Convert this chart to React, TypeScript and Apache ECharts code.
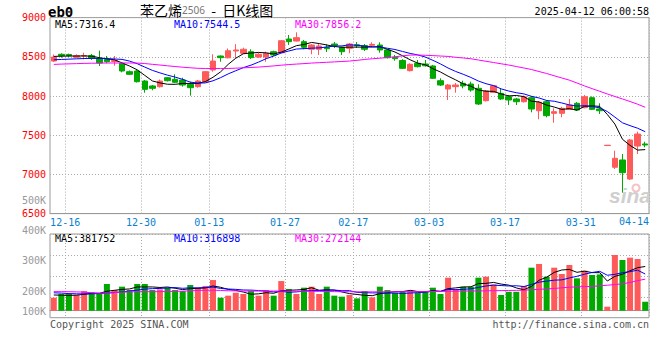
import React, { useEffect, useRef } from "react";
import * as echarts from "echarts";

const dates = ["12-12","12-13","12-16","12-17","12-18","12-19","12-20","12-23","12-24","12-25","12-26","12-27","12-30","12-31","01-02","01-03","01-06","01-07","01-08","01-09","01-10","01-13","01-14","01-15","01-16","01-17","01-20","01-21","01-22","01-23","01-24","01-27","02-05","02-06","02-07","02-10","02-11","02-12","02-13","02-14","02-17","02-18","02-19","02-20","02-21","02-24","02-25","02-26","02-27","02-28","03-03","03-04","03-05","03-06","03-07","03-10","03-11","03-12","03-13","03-14","03-17","03-18","03-19","03-20","03-21","03-24","03-25","03-26","03-27","03-28","03-31","04-01","04-02","04-03","04-07","04-08","04-09","04-10","04-11"];

const opens = [8446,8532,8530,8494,8510,8514,8478,8468,8440,8417,8310,8319,8191,8128,8119,8233,8213,8204,8149,8119,8182,8332,8510,8487,8574,8545,8565,8497,8497,8565,8552,8727,8701,8693,8596,8596,8621,8663,8621,8608,8654,8642,8647,8650,8587,8494,8453,8323,8417,8408,8383,8195,8089,8119,8162,8153,8098,7940,8047,8034,7991,7962,7927,7978,7812,7927,7779,7779,7830,7907,7851,7978,7834,7368,7091,7184,6941,7362,7388];
const closes = [8497,8514,8514,8514,8516,8481,8421,8438,8453,8319,8277,8182,8085,8098,8191,8195,8175,8140,8106,8191,8310,8446,8489,8577,8587,8596,8489,8532,8545,8523,8705,8693,8744,8621,8650,8638,8603,8647,8565,8663,8642,8596,8659,8587,8489,8476,8353,8404,8374,8385,8226,8140,8140,8140,8128,8076,7898,8064,8131,7962,7949,7927,7991,7834,7920,7749,7800,7843,7885,7821,7991,7830,7812,7372,7205,7022,7439,7515,7375];
const lows = [8434,8489,8500,8485,8468,8459,8383,8417,8386,8302,8268,8172,8042,8073,8108,8185,8166,8119,8004,8106,8172,8310,8437,8480,8485,8536,8472,8485,8437,8510,8545,8651,8695,8596,8532,8523,8561,8612,8523,8545,8612,8574,8631,8552,8478,8450,8344,8313,8364,8375,8217,8128,7949,8042,8098,8055,7885,7930,8038,7949,7885,7885,7917,7792,7703,7728,7659,7728,7821,7809,7843,7821,7770,7366,7069,6767,6928,7260,7346];
const highs = [8529,8545,8540,8532,8552,8536,8578,8510,8510,8434,8325,8332,8204,8140,8210,8242,8277,8233,8182,8204,8319,8532,8517,8606,8661,8616,8596,8552,8565,8578,8714,8778,8812,8714,8663,8663,8660,8688,8629,8676,8688,8663,8685,8685,8600,8523,8470,8417,8459,8459,8396,8226,8153,8166,8195,8182,8149,8077,8140,8098,8013,7975,8006,8000,7936,7949,7843,7863,7962,7923,8013,7994,7907,7374,7302,7260,7452,7545,7417];

const ma5 = [8505,8508,8510,8510,8511,8508,8489,8474,8462,8422,8382,8334,8263,8192,8167,8150,8149,8160,8161,8161,8184,8239,8308,8403,8482,8539,8548,8556,8550,8537,8559,8600,8642,8657,8683,8669,8651,8632,8621,8623,8624,8623,8625,8629,8595,8561,8513,8462,8419,8398,8348,8306,8253,8206,8155,8125,8076,8061,8059,8026,8001,8007,7992,7933,7924,7884,7859,7829,7839,7820,7868,7874,7868,7765,7642,7448,7370,7310,7316.4];
const ma10 = [8462,8466,8470,8474,8478,8480,8479,8476,8472,8467,8445,8412,8369,8327,8295,8266,8241,8212,8177,8164,8167,8194,8234,8282,8322,8362,8393,8432,8476,8509,8549,8574,8599,8604,8610,8614,8625,8637,8639,8653,8647,8637,8628,8625,8609,8593,8568,8543,8524,8497,8455,8409,8357,8313,8277,8237,8191,8157,8133,8091,8063,8042,8027,7996,7975,7943,7933,7911,7886,7872,7876,7866,7849,7802,7731,7658,7622,7589,7544.5];
const ma30 = [8403,8407,8410,8413,8416,8418,8419,8421,8421,8421,8421,8420,8414,8404,8395,8385,8376,8367,8360,8353,8351,8351,8351,8351,8355,8359,8364,8369,8376,8384,8393,8401,8407,8413,8420,8425,8430,8435,8440,8446,8455,8466,8475,8482,8491,8500,8512,8522,8523,8519,8515,8510,8505,8494,8485,8475,8459,8443,8427,8411,8395,8376,8357,8338,8312,8287,8258,8230,8202,8166,8128,8094,8060,8026,7994,7962,7930,7895,7856.2];

const volumes = [112500,144500,144500,135800,169800,158100,144500,230900,178500,207600,178500,230900,230900,178500,184300,198900,178500,169800,222100,198900,213400,264800,112500,130000,155200,144500,169800,130000,178500,130000,256100,187200,144500,198900,207600,144500,207600,130000,121300,135800,106700,169800,115400,207600,178500,155200,169800,169800,155200,169800,198900,144500,285200,187200,207600,207600,285200,293900,227000,135800,163900,163900,213400,371500,403500,293900,371500,317200,394800,279400,345300,308500,313300,34900,481100,437500,457800,446200,77600];
const volMa5 = [136000,134000,132000,135000,141400,150500,150500,167800,176400,183900,188000,205300,205300,205300,200600,204700,194200,182000,190700,193600,196500,213800,202300,183900,175200,161400,142400,145900,155600,150600,172900,176400,179300,183300,198900,176500,180600,177700,162200,147800,140300,132700,129800,147100,155600,165300,165300,176200,165700,164000,172700,167600,190700,197100,204700,206400,234600,236300,244300,229900,221200,196900,180800,209700,263200,289200,330800,351500,356200,331400,341600,329000,328300,256300,296600,315100,344900,371500,381752];
const volMa10 = [155000,152000,148000,146000,145000,146000,148000,152000,158000,162700,169300,177900,186600,190800,192300,196400,199800,193600,198000,197100,200600,204000,192200,187300,184400,179000,178100,174100,169800,162900,167100,159400,162600,169500,174700,174700,178500,178500,172800,173400,158400,156700,153800,154600,151700,152800,149000,153000,156400,159800,169000,166500,183500,181400,184300,189600,201100,213500,220700,217300,213800,215700,208600,227000,246600,255200,263800,266200,282900,297300,315400,329900,339900,306200,314000,328400,337000,349900,316898];
const volMa30 = [165000,165000,164000,163000,160000,155000,152000,152000,156000,160000,163000,164000,164000,164000,165000,166000,167000,169000,172000,175000,177000,177000,175000,172000,171000,170000,170000,170000,170000,170000,170000,170000,169000,168000,168000,167000,166000,165000,164000,164000,163000,163000,163000,163000,164000,164000,164000,164000,165000,165000,166000,167000,168000,169000,170000,170000,171000,172000,173000,174000,175000,176000,177000,181000,185000,188000,192000,198000,203000,206000,208000,210000,215000,220000,226000,232000,244000,260000,272144];

const labelDates = ["12-16","12-30","01-13","01-27","02-17","03-03","03-17","03-31"];
const extraDateLabel = "04-14";
const volTickLabels = ["500K","400K","300K","200K","100K"];
const legendPrice = ["MA5:7316.4","MA10:7544.5","MA30:7856.2"];
const legendVol = ["MA5:381752","MA10:316898","MA30:272144"];

const UP = "#ff5a5a";
const DOWN = "#00a800";
const MONO = '"DejaVu Sans Mono", monospace';
const GRIDC = "#aaaaaa";

export default function App() {
  const ref = useRef<HTMLDivElement>(null);
  useEffect(() => {
    if (!ref.current) return;
    const chart = echarts.init(ref.current, null, { renderer: "svg" });
    const labelSet = new Set(labelDates);
    const showAt = (_i: number, v: string) => labelSet.has(v);
    const dotted = { color: GRIDC, type: [1, 2] as any, width: 1 };
    const candleData = dates.map((_, i) => [opens[i], closes[i], lows[i], highs[i]]);
    const volData = volumes.map((v, i) => ({
      value: v,
      itemStyle: { color: closes[i] >= opens[i] ? UP : DOWN },
    }));
    const lineS = (name: string, data: number[], color: string, xi: number, yi: number) => ({
      name,
      type: "line",
      data,
      xAxisIndex: xi,
      yAxisIndex: yi,
      symbol: "none",
      smooth: false,
      lineStyle: { color, width: 1 },
      itemStyle: { color },
      z: 5,
      silent: true,
    });
    const txt = (text: string, x: number, y: number, fill: string, font: string, align = "left", valign = "middle") => ({
      type: "text",
      x,
      y,
      silent: true,
      style: { text, fill, font, textAlign: align, textVerticalAlign: valign },
    });
    const volLabelY = [200, 230, 260, 291, 311];
    const legX = [55, 174, 295];
    const colors = ["#000000", "#0000ff", "#ff00ff"];
    const graphics: any[] = [
      txt("eb0", 48, 11.5, "#000", 'bold 14px "DejaVu Sans Mono"'),
      {
        type: "text",
        x: 140,
        y: 10,
        silent: true,
        style: {
          text: "{a|苯乙烯}{b|2506}{a|  -  日K线图}",
          textVerticalAlign: "middle",
          rich: {
            a: { font: '14px "Noto Sans CJK SC"', fill: "#000", lineHeight: 14 },
            b: { font: '10px "Noto Sans"', fill: "#777", lineHeight: 14 },
          },
        },
      },
      txt("2025-04-12 06:00:58", 649, 11, "#000", "10px " + MONO, "right"),
      txt("Copyright 2025 SINA.COM", 50, 324, "#555", "10px " + MONO),
      txt("http://finance.sina.com.cn", 649, 324, "#555", "10px " + MONO, "right"),
      txt(extraDateLabel, 649, 221.5, "#0a7fd0", "10px " + MONO, "right"),
      {
        type: "text",
        x: 651,
        y: 206,
        silent: true,
        style: {
          text: "sina",
          fill: "#cfcfcf",
          font: 'italic bold 21px "Liberation Sans"',
          textAlign: "right",
          textVerticalAlign: "bottom",
        },
      },
      { type: "ring", shape: { cx: 636, cy: 188, r: 4.5, r0: 2.5 }, style: { fill: "#f4c4c4" }, silent: true },
    ];
    legendPrice.forEach((t, i) => graphics.push(txt(t, legX[i], 24, colors[i], "10px " + MONO)));
    legendVol.forEach((t, i) => graphics.push(txt(t, legX[i], 238.5, colors[i], "10px " + MONO)));
    volTickLabels.forEach((t, i) => graphics.push(txt(t, 46, volLabelY[i], "#999", "10px " + MONO, "right")));

    const option: any = {
      animation: false,
      backgroundColor: "#ffffff",
      grid: [
        { left: 50, top: 17.6, width: 599, height: 196, show: true, borderColor: "#999", borderWidth: 1, outerBoundsMode: "none", containLabel: false },
        { left: 50, top: 234, width: 599, height: 83.7, show: true, borderColor: "#999", borderWidth: 1, outerBoundsMode: "none", containLabel: false },
      ],
      xAxis: [
        {
          type: "category",
          gridIndex: 0,
          data: dates,
          boundaryGap: true,
          axisLine: { show: true, lineStyle: { color: "#999", width: 1 } },
          axisTick: { show: false, interval: showAt },
          axisLabel: {
            show: true,
            interval: showAt,
            color: "#0a7fd0",
            fontFamily: MONO,
            fontSize: 10,
            margin: 4,
            padding: [0, 7.6, 0, 0],
            hideOverlap: false,
          },
          splitLine: { show: true, interval: showAt, lineStyle: dotted },
        },
        {
          type: "category",
          gridIndex: 1,
          data: dates,
          boundaryGap: true,
          axisLine: { show: true, lineStyle: { color: "#999", width: 1 } },
          axisTick: { show: false, interval: showAt },
          axisLabel: { show: false, interval: showAt },
          splitLine: { show: true, interval: showAt, lineStyle: dotted },
        },
      ],
      yAxis: [
        {
          type: "value",
          gridIndex: 0,
          min: 6500,
          max: 9000,
          interval: 500,
          axisLine: { show: false },
          axisTick: { show: false },
          axisLabel: {
            color: "#ff0000",
            fontFamily: MONO,
            fontSize: 10,
            margin: 4,
            padding: [0, 0, 5, 0],
            showMinLabel: true,
            showMaxLabel: true,
            formatter: (v: number) => String(v),
          },
          splitLine: { show: true, lineStyle: dotted },
        },
        {
          type: "value",
          gridIndex: 1,
          min: -60000,
          max: 662000,
          show: false,
          splitLine: { show: false },
        },
        {
          type: "value",
          gridIndex: 1,
          min: 0,
          max: 4,
          interval: 1,
          axisLine: { show: false },
          axisTick: { show: false },
          axisLabel: { show: false },
          splitLine: { show: true, lineStyle: dotted },
        },
      ],
      series: [
        {
          type: "candlestick",
          xAxisIndex: 0,
          yAxisIndex: 0,
          data: candleData,
          barWidth: 6,
          silent: true,
          itemStyle: { color: UP, color0: DOWN, borderColor: UP, borderColor0: DOWN, borderWidth: 1 },
        },
        lineS("MA5", ma5, "#000000", 0, 0),
        lineS("MA10", ma10, "#0000ff", 0, 0),
        lineS("MA30", ma30, "#ff00ff", 0, 0),
        {
          type: "bar",
          xAxisIndex: 1,
          yAxisIndex: 1,
          data: volData,
          barWidth: 6,
          silent: true,
        },
        lineS("VMA5", volMa5, "#000000", 1, 1),
        lineS("VMA10", volMa10, "#0000ff", 1, 1),
        lineS("VMA30", volMa30, "#ff00ff", 1, 1),
      ],
      graphic: graphics,
    };
    chart.setOption(option);
    return () => chart.dispose();
  }, []);
  return (
    <div
      ref={ref}
      style={{ position: "absolute", left: 0, top: 0, width: 660, height: 360, background: "#fff" }}
    />
  );
}
